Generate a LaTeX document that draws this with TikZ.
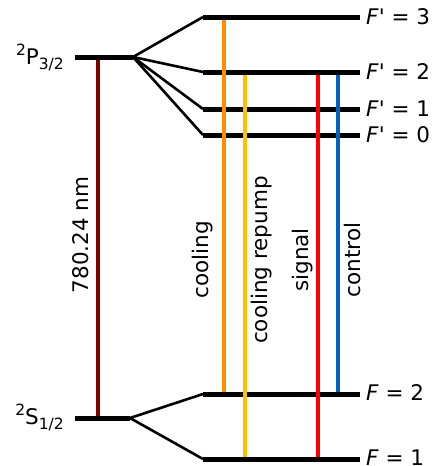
\documentclass[tikz,border=0pt]{standalone}
\usepackage{fontspec}
\setmainfont{DejaVu Sans}
\usepackage{xcolor}
\usepackage{tikz}
\definecolor{dred}{HTML}{800000}
\definecolor{coolc}{HTML}{FF8C00}
\definecolor{repc}{HTML}{FFC000}
\definecolor{sigc}{HTML}{FF0000}
\definecolor{ctlc}{HTML}{0062C4}
\newcommand{\trm}[3]{\raisebox{0.42em}{\fontsize{15.5}{17}\selectfont #1}#2\raisebox{-0.25em}{\fontsize{15.5}{17}\selectfont #3}}

\begin{document}
\begin{tikzpicture}[x=1pt,y=-1pt,font=\fontsize{21.5}{25}\selectfont,
    lev/.style={line width=5pt},
    fan/.style={line width=2.6pt},
    trans/.style={line width=3.2pt,shorten <=2.5pt,shorten >=2.5pt},
    lab/.style={inner sep=0pt,anchor=base west,xshift=6pt,yshift=-7.5pt},
    tlab/.style={rotate=90,inner sep=0pt}]
  \useasboundingbox (0,0) rectangle (434,466);
  \coordinate (Pl) at (75,57);  \coordinate (Pr) at (133,57);
  \coordinate (Sl) at (75,418); \coordinate (Sr) at (130,418);
  \draw[lev] (Pl) -- (Pr);
  \draw[lev] (Sl) -- (Sr);
  \node[inner sep=0pt,anchor=base east,xshift=-11pt,yshift=-7.5pt] (Plab) at (Pl) {\trm{2}{P}{3/2}};
  \node[inner sep=0pt,anchor=base east,xshift=-11pt,yshift=-6.5pt] (Slab) at (Sl) {\trm{2}{S}{1/2}};
  \foreach \y/\n/\f in {17/E3/3,72/E2/2,109/E1/1,135/E0/0}{
    \coordinate (\n l) at (203,\y); \coordinate (\n r) at (360,\y);
    \draw[fan] (Pr) -- (\n l);
    \draw[lev] (\n l) -- (\n r);
    \node[lab] (\n lab) at (\n r) {\textit{F}\textquotesingle{} = \f};
  }
  \foreach \y/\n/\f in {394/G2/2,459/G1/1}{
    \coordinate (\n l) at (203,\y); \coordinate (\n r) at (360,\y);
    \draw[fan] (Sr) -- (\n l);
    \draw[lev] (\n l) -- (\n r);
    \node[lab,yshift=1pt] (\n lab) at (\n r) {\textit{F} = \f};
  }
  \coordinate (xd) at (98,0);  \coordinate (xc) at (224,0);
  \coordinate (xr) at (245,0); \coordinate (xs) at (318,0);
  \coordinate (xk) at (338,0);
  \draw[trans,dred] (xd |- Pl) -- (xd |- Sl);
  \draw[trans,coolc] (xc |- E3l) -- (xc |- G2l);
  \draw[trans,repc] (xr |- E2l) -- (xr |- G1l);
  \draw[trans,sigc] (xs |- E2l) -- (xs |- G1l);
  \draw[trans,ctlc] (xk |- E2l) -- (xk |- G2l);
  \node[tlab] (dlab) at (81,235) {780.24 nm};
  \node[tlab] (clab) at (203,260) {cooling};
  \node[tlab] (rlab) at (262,260) {cooling repump};
  \node[tlab] (slab) at (303,260) {signal};
  \node[tlab] (klab) at (352,260) {control};
\end{tikzpicture}
\end{document}
